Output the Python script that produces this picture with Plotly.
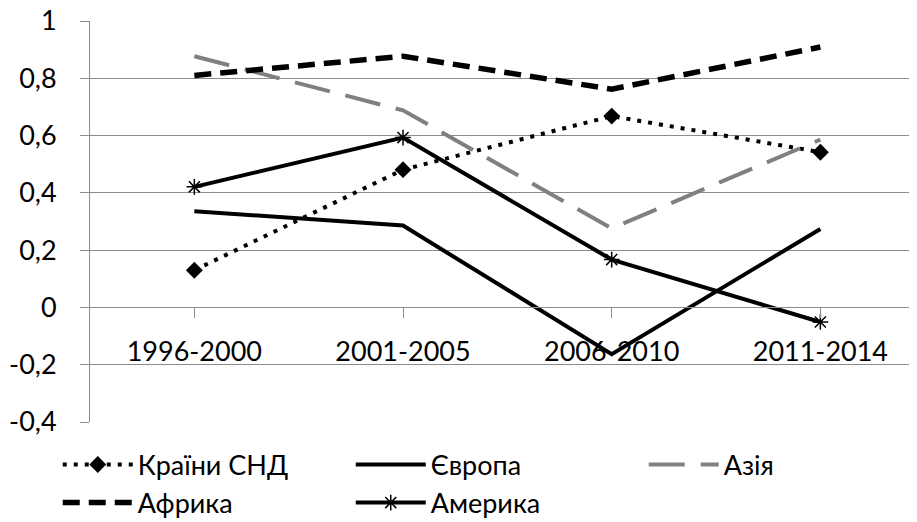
import plotly.graph_objects as go

categories = ["1996-2000", "2001-2005", "2006-2010", "2011-2014"]
cis = [0.13, 0.481, 0.668, 0.542]
europe = [0.336, 0.286, -0.163, 0.274]
asia = [0.877, 0.688, 0.276, 0.586]
africa = [0.81, 0.877, 0.762, 0.909]
america = [0.421, 0.593, 0.167, -0.051]

y_tickvals = [-0.4, -0.2, 0, 0.2, 0.4, 0.6, 0.8, 1]
y_ticktext = ["-0,4", "-0,2", "0", "0,2", "0,4", "0,6", "0,8", "1"]

FONT = "Lato, 'Noto Sans', sans-serif"
GRID = "#8c8c8c"
x = list(range(len(categories)))

fig = go.Figure()
fig.add_trace(go.Scatter(x=x, y=cis, name="Країни СНД", mode="lines+markers",
                         line=dict(color="black", width=4, dash="4px,7px"),
                         marker=dict(symbol="diamond", size=13, color="black")))
fig.add_trace(go.Scatter(x=x, y=europe, name="Європа", mode="lines",
                         line=dict(color="black", width=4)))
fig.add_trace(go.Scatter(x=x, y=asia, name="Азія", mode="lines",
                         line=dict(color="#808080", width=4, dash="36px,16px")))
fig.add_trace(go.Scatter(x=x, y=africa, name="Африка", mode="lines",
                         line=dict(color="black", width=5.5, dash="17px,9px")))
fig.add_trace(go.Scatter(x=x, y=america, name="Америка", mode="lines+markers",
                         line=dict(color="black", width=4),
                         marker=dict(symbol="asterisk-open", size=13,
                                     line=dict(color="black", width=1.5))))

zero_frac = 0.4 / 1.4

fig.update_layout(
    width=909, height=514,
    margin=dict(l=82, r=0, t=13, b=100, autoexpand=False),
    paper_bgcolor="white", plot_bgcolor="white",
    font=dict(family=FONT, size=27, color="black"),
    showlegend=True,
    legend=dict(orientation="h", x=-0.039, xanchor="left", y=-0.046, yanchor="top",
                entrywidth=208, itemwidth=70, font=dict(size=27),
                traceorder="normal", tracegroupgap=0),
    xaxis=dict(
        tickvals=x, ticktext=categories,
        range=[-0.5, 3.463],
        anchor="free", position=zero_frac,
        showgrid=False, zeroline=False,
        showline=True, linecolor=GRID, linewidth=1,
        ticks="outside", ticklen=10, tickcolor=GRID, tickwidth=1,
        tickson="boundaries", ticklabelstandoff=10,
        ticklabeloverflow="allow",
        tickfont=dict(size=27),
    ),
    yaxis=dict(
        range=[-0.4, 1], tickvals=y_tickvals, ticktext=y_ticktext,
        showgrid=True, gridcolor=GRID, gridwidth=1,
        zeroline=True, zerolinecolor=GRID, zerolinewidth=1,
        showline=True, linecolor=GRID, linewidth=1,
        ticks="outside", ticklen=9, tickcolor=GRID, tickwidth=1,
        ticklabelstandoff=18, ticklabeloverflow="allow",
        tickfont=dict(size=27),
    ),
)

fig.write_html("out.html")
